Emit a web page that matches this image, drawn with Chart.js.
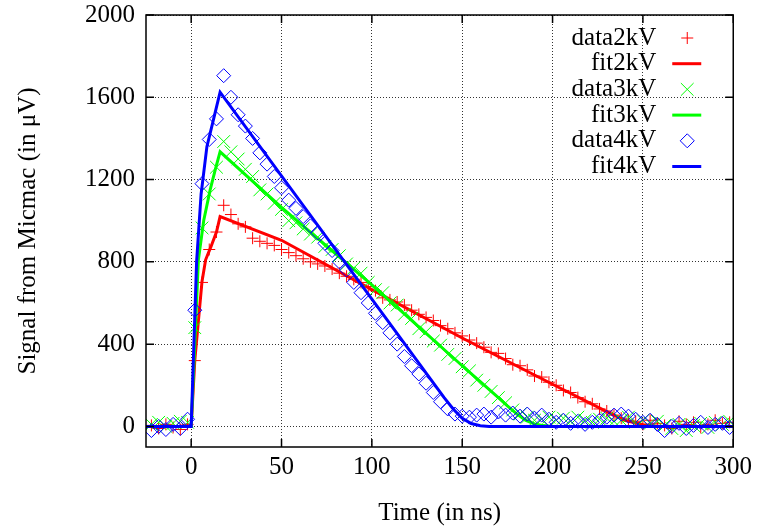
<!DOCTYPE html>
<html>
<head>
<meta charset="utf-8">
<script src="https://cdn.jsdelivr.net/npm/chart.js@4.4.0/dist/chart.umd.min.js"></script>
<style>
  html, body { margin: 0; padding: 0; background: #fff; }
</style>
</head>
<body>
<canvas id="chart" width="757" height="530"></canvas>
<script>
// sample times (ns) of the measured points
const time = [-22, -18, -14, -10, -6, -2, 2, 6, 10, 14, 18, 22, 26, 30, 34, 38, 42, 46,
  50, 54, 58, 62, 66, 70, 74, 78, 82, 86, 90, 94, 98, 102, 106, 110, 114, 118, 122, 126,
  130, 134, 138, 142, 146, 150, 154, 158, 162, 166, 170, 174, 178, 182, 186, 190, 194, 198,
  202, 206, 210, 214, 218, 222, 226, 230, 234, 238, 242, 246, 250, 254, 258, 262, 266, 270,
  274, 278, 282, 286, 290, 294, 298];

const data2kV = [5, -10, 10, -5, -15, 10, 320, 700, 860, 945, 1075, 1030, 985, 970, 915, 900, 890, 880,
  860, 845, 830, 815, 800, 790, 780, 765, 745, 730, 715, 700, 680, 660, 625, 615, 605, 590, 565, 545,
  530, 515, 490, 475, 455, 440, 420, 405, 385, 360, 355, 330, 300, 295, 275, 245, 240, 215,
  200, 175, 165, 140, 120, 110, 85, 75, 55, 40, 30, 25, 10, 30, 15, 5, -10, 25,
  10, 20, -5, 10, 30, 15, 20];

const data3kV = [10, 20, 0, 15, 25, 20, 480, 965, 1130, 1260, 1385, 1335, 1300, 1250, 1215, 1150, 1130, 1085,
  1055, 1000, 990, 960, 935, 920, 875, 860, 830, 790, 770, 745, 700, 665, 650, 600, 590, 545, 525, 475,
  460, 415, 395, 350, 330, 290, 270, 225, 200, 170, 140, 115, 80, 60, 45, 30, 35, 45,
  30, 40, 25, 45, 30, 20, 35, 40, 25, 30, 45, 20, 30, 15, 25, 5, -10, 10,
  -20, 5, 15, -5, 20, 10, 25];

const data4kV = [-20, 0, -15, 10, -10, 35, 565, 1180, 1395, 1495, 1705, 1600, 1515, 1460, 1400, 1330, 1275, 1215,
  1160, 1100, 1060, 1020, 975, 940, 890, 855, 800, 760, 700, 650, 600, 550, 505, 455, 400, 340, 295, 255,
  210, 165, 120, 85, 60, 50, 45, 55, 60, 45, 70, 55, 65, 50, 60, 40, 55, 35,
  20, 30, 15, 25, 10, 20, 30, 45, 55, 60, 50, 35, 20, 30, 10, -20, 0, 15,
  -10, 5, 20, -5, 10, 15, -5];

// fitted curves, read at their break points
const fit2T = [-25, 0, 2, 6, 8, 11, 14, 16, 50, 100, 150, 200, 230, 240, 250, 260, 300];
const fit2V = [0, 0, 320, 705, 810, 875, 945, 1020, 905, 665, 430, 205, 72, 30, 8, 0, 0];
const fit3T = [-25, 0, 2, 4, 7, 10.5, 13.3, 16, 50, 100, 150, 160, 170, 175, 180, 185, 190, 195, 200, 300];
const fit3V = [0, 0, 400, 810, 1004, 1150, 1247, 1335, 1065, 688, 295, 218, 140, 100, 62, 30, 12, 4, 0, 0];
const fit4T = [-25, 0, 1.5, 3, 5.5, 8.7, 12.3, 16, 140, 145, 150, 155, 160, 165, 300];
const fit4V = [0, 0, 400, 800, 1130, 1360, 1490, 1625, 140, 85, 40, 14, 3, 0, 0];

const xTicks = [0, 50, 100, 150, 200, 250, 300];
const yTicks = [0, 400, 800, 1200, 1600, 2000];

const FONT = { family: "'Liberation Serif', 'Times New Roman', serif", size: 25 };

function pairs(xs, ys) {
  return xs.map((x, i) => ({ x: x, y: ys[i] }));
}

// gnuplot style frame with inward ticks on all four sides
const framePlugin = {
  id: 'frame',
  afterDatasetsDraw(chart) {
    const { ctx, chartArea: a, scales } = chart;
    ctx.save();
    ctx.strokeStyle = '#000';
    ctx.lineWidth = 1.5;
    ctx.beginPath();
    scales.x.ticks.forEach(t => {
      const px = scales.x.getPixelForValue(t.value);
      ctx.moveTo(px, a.bottom); ctx.lineTo(px, a.bottom - 8);
      ctx.moveTo(px, a.top); ctx.lineTo(px, a.top + 8);
    });
    scales.y.ticks.forEach(t => {
      const py = scales.y.getPixelForValue(t.value);
      ctx.moveTo(a.left, py); ctx.lineTo(a.left + 8, py);
      ctx.moveTo(a.right, py); ctx.lineTo(a.right - 8, py);
    });
    ctx.stroke();
    ctx.strokeRect(a.left, a.top, a.right - a.left, a.bottom - a.top);
    ctx.restore();
  }
};

// key in the top right corner: text first, sample after it
const keyPlugin = {
  id: 'key',
  afterDraw(chart) {
    const { ctx, chartArea: a } = chart;
    const textRight = a.right - 77;
    const sampleX = a.right - 46;
    ctx.save();
    ctx.font = FONT.size + 'px ' + FONT.family;
    ctx.textAlign = 'right';
    ctx.textBaseline = 'middle';
    chart.data.datasets.forEach((ds, i) => {
      const y = a.top + 23 + i * 25.7;
      ctx.fillStyle = '#000';
      ctx.fillText(ds.label, textRight, y);
      if (ds.showLine) {
        ctx.strokeStyle = ds.borderColor;
        ctx.lineWidth = ds.borderWidth;
        ctx.beginPath();
        ctx.moveTo(sampleX - 15, y);
        ctx.lineTo(sampleX + 14, y);
        ctx.stroke();
      } else {
        ctx.strokeStyle = ds.pointBorderColor;
        ctx.fillStyle = 'rgba(0,0,0,0)';
        ctx.lineWidth = ds.pointBorderWidth;
        Chart.helpers.drawPoint(ctx, {
          pointStyle: ds.pointStyle, radius: ds.pointRadius, rotation: 0, borderWidth: ds.pointBorderWidth
        }, sampleX, y);
      }
    });
    ctx.restore();
  }
};

function dataSet(label, values, color, style, radius, order) {
  return {
    label: label,
    data: pairs(time, values),
    showLine: false,
    pointStyle: style,
    pointRadius: radius,
    pointBorderWidth: 1,
    pointBorderColor: color,
    pointBackgroundColor: 'rgba(0,0,0,0)',
    borderColor: color,
    order: order
  };
}

function fitSet(label, xs, ys, color, order) {
  return {
    label: label,
    data: pairs(xs, ys),
    showLine: true,
    borderColor: color,
    borderWidth: 3,
    pointRadius: 0,
    tension: 0,
    order: order
  };
}

new Chart(document.getElementById('chart'), {
  type: 'scatter',
  data: {
    datasets: [
      dataSet('data2kV', data2kV, '#ff0000', 'cross', 6, 6),
      fitSet('fit2kV', fit2T, fit2V, '#ff0000', 5),
      dataSet('data3kV', data3kV, '#00ff00', 'crossRot', 9, 4),
      fitSet('fit3kV', fit3T, fit3V, '#00ff00', 3),
      dataSet('data4kV', data4kV, '#0000ff', 'rectRot', 7, 2),
      fitSet('fit4kV', fit4T, fit4V, '#0000ff', 1)
    ]
  },
  options: {
    responsive: false,
    animation: false,
    layout: { padding: { top: 15, right: 23, left: 0, bottom: 0 } },
    plugins: {
      legend: { display: false },
      tooltip: { enabled: false }
    },
    scales: {
      x: {
        type: 'linear',
        min: -25,
        max: 300,
        afterBuildTicks: s => { s.ticks = xTicks.map(v => ({ value: v })); },
        afterFit: s => { s.height = 83; },
        ticks: { font: FONT, color: '#000', padding: 5, maxRotation: 0, autoSkip: false, callback: v => String(v) },
        grid: { color: '#333', lineWidth: 1, drawTicks: false },
        border: { display: false, dash: [1, 2] },
        title: { display: true, text: 'Time (in ns)', font: FONT, color: '#000', padding: { top: 4, bottom: 2 } }
      },
      y: {
        type: 'linear',
        min: -100,
        max: 2000,
        afterBuildTicks: s => { s.ticks = yTicks.map(v => ({ value: v })); },
        afterFit: s => { s.width = 146; s.paddingTop = 0; s.paddingBottom = 0; },
        ticks: { font: FONT, color: '#000', padding: 11, callback: v => String(v) },
        grid: { color: '#333', lineWidth: 1, drawTicks: false },
        border: { display: false, dash: [1, 2] },
        title: { display: true, text: 'Signal from Micmac (in μV)', font: FONT, color: '#000', padding: { top: 13, bottom: 0 } }
      }
    }
  },
  plugins: [framePlugin, keyPlugin]
});
</script>
</body>
</html>
